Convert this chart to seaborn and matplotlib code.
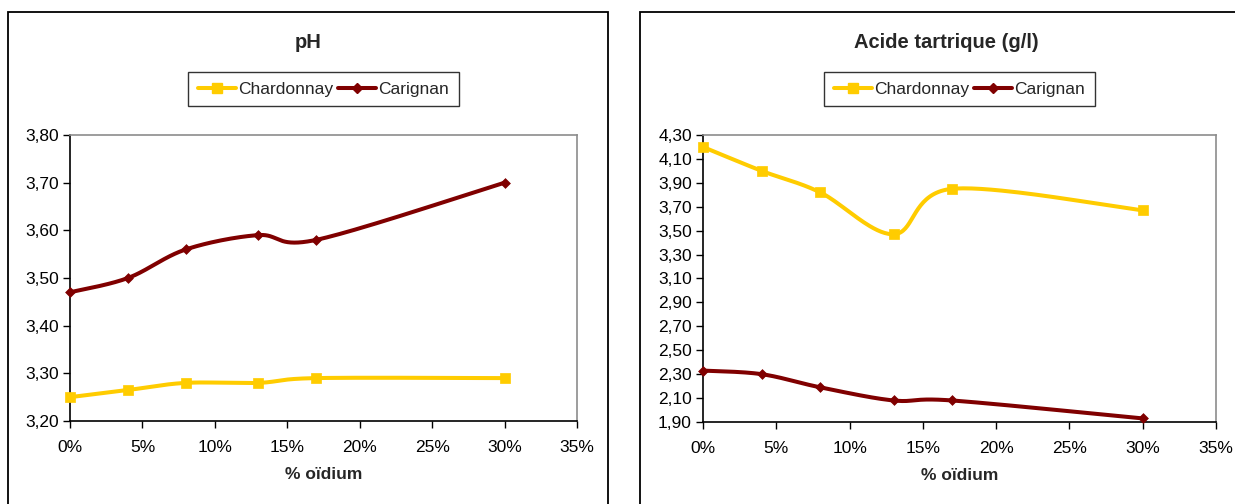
import numpy as np
import matplotlib
matplotlib.use("Agg")
import matplotlib.pyplot as plt
from matplotlib.lines import Line2D
from matplotlib.patches import Rectangle
from matplotlib.ticker import FuncFormatter, FixedLocator
import seaborn as sns

# % oïdium (fraction of affected bunches)
oidium = [0.00, 0.04, 0.08, 0.13, 0.17, 0.30]

ph_chardonnay = [3.25, 3.265, 3.28, 3.28, 3.29, 3.29]
ph_carignan = [3.47, 3.50, 3.56, 3.59, 3.58, 3.70]

acide_chardonnay = [4.20, 4.00, 3.82, 3.47, 3.85, 3.67]
acide_carignan = [2.33, 2.30, 2.19, 2.08, 2.08, 1.93]

series_names = ["Chardonnay", "Carignan"]
titles = ["pH", "Acide tartrique (g/l)"]
xlabel = "% oïdium"

YELLOW = "#FFCC00"
DARKRED = "#800000"

sns.set_theme(style="white")
plt.rcParams["font.family"] = ["Liberation Sans", "DejaVu Sans"]

W, H = 1235, 504
fig = plt.figure(figsize=(W / 100, H / 100), dpi=100)


def px_axes(x0, x1, y0, y1):
    """Axes placed by pixel box (top-left origin)."""
    return fig.add_axes([x0 / W, 1 - y1 / H, (x1 - x0) / W, (y1 - y0) / H])


def smooth(xs, ys, xspan, yspan, n=40):
    """Excel-style smoothed line: Catmull-Rom Bezier through the points,
    computed in screen-proportional space."""
    sx, sy = 507.0 / xspan, 286.0 / yspan
    p = np.column_stack([np.asarray(xs) * sx, np.asarray(ys) * sy])
    m = len(p)
    out = []
    t = np.linspace(0, 1, n)[:, None]
    for i in range(m - 1):
        p0 = p[max(i - 1, 0)]
        p1 = p[i]
        p2 = p[i + 1]
        p3 = p[min(i + 2, m - 1)]
        c1 = p1 + (p2 - p0) / 6.0
        c2 = p2 - (p3 - p1) / 6.0
        seg = ((1 - t) ** 3) * p1 + 3 * ((1 - t) ** 2) * t * c1 + 3 * (1 - t) * t ** 2 * c2 + t ** 3 * p2
        out.append(seg if i == 0 else seg[1:])
    c = np.vstack(out)
    return c[:, 0] / sx, c[:, 1] / sy


def comma(fmt):
    return FuncFormatter(lambda v, _: fmt.format(v).replace(".", ","))


panels = [
    dict(box=(70, 577, 135, 421), frame=(8, 12, 600, 520), title_x=308,
         data=[ph_chardonnay, ph_carignan], ylim=(3.20, 3.80), ystep=0.10),
    dict(box=(703, 1216, 135, 422), frame=(640, 12, 620, 520), title_x=946,
         data=[acide_chardonnay, acide_carignan], ylim=(1.90, 4.30), ystep=0.20),
]

styles = [
    dict(color=YELLOW, marker="s", ms=6.5),
    dict(color=DARKRED, marker="D", ms=5.0),
]

for idx, p in enumerate(panels):
    # outer chart frame
    fx, fy, fw, fh = p["frame"]
    fig.patches.append(Rectangle((fx / W, 1 - (fy + fh) / H), fw / W, fh / H,
                                 transform=fig.transFigure, fill=False,
                                 edgecolor="black", linewidth=1.3, zorder=0))
    x0, x1, y0, y1 = p["box"]
    ax = px_axes(x0, x1, y0, y1)
    ax.set_facecolor("white")
    ylo, yhi = p["ylim"]
    for vals, st in zip(p["data"], styles):
        cx, cy = smooth(oidium, vals, 0.35, yhi - ylo)
        sns.lineplot(x=cx, y=cy, sort=False, estimator=None, ax=ax,
                     color=st["color"], linewidth=2.9, clip_on=False)
        sns.scatterplot(x=oidium, y=vals, ax=ax, color=st["color"],
                        marker=st["marker"], s=st["ms"] ** 2,
                        edgecolor=st["color"], linewidth=0.5,
                        clip_on=False, zorder=5)
    ax.set_xlim(0, 0.35)
    ax.set_ylim(ylo, yhi)
    nx = 8
    ny = int(round((yhi - ylo) / p["ystep"])) + 1
    ax.xaxis.set_major_locator(FixedLocator(np.linspace(0, 0.35, nx)))
    ax.yaxis.set_major_locator(FixedLocator(np.linspace(ylo, yhi, ny)))
    ax.xaxis.set_major_formatter(FuncFormatter(lambda v, _: f"{v * 100:.0f}%"))
    ax.yaxis.set_major_formatter(comma("{:.2f}"))
    ax.tick_params(axis="both", which="major", direction="out", length=5,
                   width=1.0, color="black", labelsize=12.5, labelcolor="black",
                   pad=3, left=True, bottom=True)
    ax.tick_params(axis="x", pad=9)
    for side in ("left", "bottom"):
        ax.spines[side].set_color("black")
        ax.spines[side].set_linewidth(1.2)
    for side in ("top", "right"):
        ax.spines[side].set_color("#8C8C8C")
        ax.spines[side].set_linewidth(1.2)
    ax.grid(False)
    ax.set_xlabel(xlabel, fontsize=12.5, fontweight="bold", labelpad=8)
    ax.set_ylabel("")
    fig.text(p["title_x"] / W, 1 - 42 / H, titles[idx], ha="center", va="center",
             fontsize=14.5, fontweight="bold")
    handles = [Line2D([], [], color=st["color"], linewidth=2.9, marker=st["marker"],
                      markersize=st["ms"], markeredgecolor=st["color"])
               for st in styles]
    leg = ax.legend(handles, series_names, ncol=2, loc="center",
                    bbox_to_anchor=(((x0 + x1) / 2) / W, 1 - 89 / H),
                    bbox_transform=fig.transFigure, frameon=True, fancybox=False,
                    edgecolor="black", fontsize=12.5, handlelength=2.2,
                    handletextpad=0.1, columnspacing=0.3, borderpad=0.55,
                    borderaxespad=0)
    leg.get_frame().set_linewidth(1.0)

fig.savefig("out.png", dpi=100, facecolor="white")
